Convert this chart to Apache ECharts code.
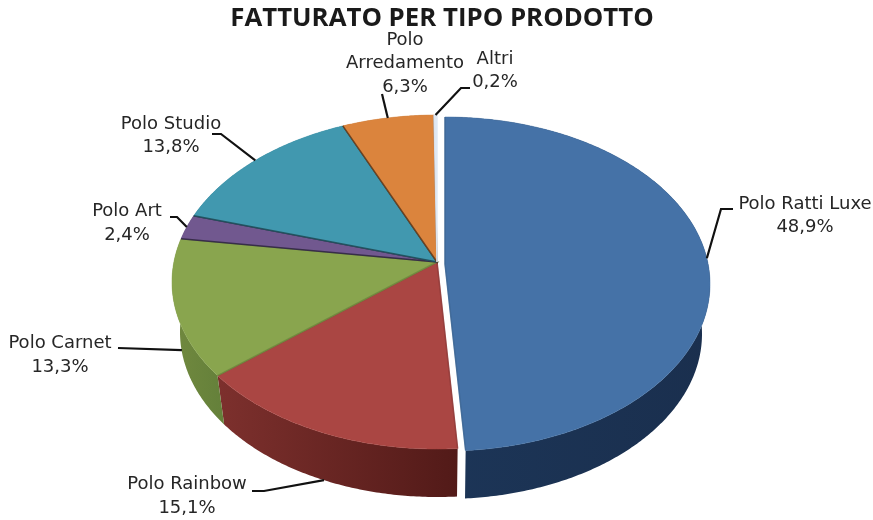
<!DOCTYPE html>
<html>
<head>
<meta charset="utf-8">
<style>html,body{margin:0;padding:0;background:#fff}#c{width:873px;height:520px}</style>
<script src="https://cdn.jsdelivr.net/npm/echarts@6/dist/echarts.min.js"></script>
</head>
<body>
<div id="c"></div>
<script>
const title = 'FATTURATO PER TIPO PRODOTTO';
const categories = ['Polo Ratti Luxe', 'Polo Rainbow', 'Polo Carnet', 'Polo Art', 'Polo Studio', 'Polo Arredamento', 'Altri'];
const values = [48.9, 15.1, 13.3, 2.4, 13.8, 6.3, 0.2];
const valueLabels = ['48,9%', '15,1%', '13,3%', '2,4%', '13,8%', '6,3%', '0,2%'];

const topColors = ['#4572a7', '#aa4643', '#89a54e', '#71588f', '#4198af', '#db843d', '#dfe8f3'];
const edgeColors = ['#3d6694', '#8f3a38', '#6f8a3e', '#2e2440', '#1f4a56', '#5f3a1c', '#dfe8f3'];
const wallLeft = ['#1c3557', '#7d302d', '#71893f', '#5a4672', '#33788b', '#af6a31', '#dfe8f3'];
const wallRight = ['#1a2f4e', '#521a18', '#64803a', '#5a4672', '#33788b', '#af6a31', '#dfe8f3'];

// perspective projection of the pie disc
const CX = 437, TOP_CY = 282, TOP_RX = 265, TOP_RY = 167;
const BOT_CY = 332, BOT_RX = 257, BOT_RY = 165, E = 0.12;
const explode = [[8, 2], [0, 0], [0, 0], [0, 0], [0, 0], [0, 0], [0, 0]];

// label boxes and leader bends (annotation layout)
const labelLayout = [
  {x: 805, y: [204, 227], depth: 0, bends: [[721, 209], [733, 209]]},
  {x: 187, y: [484, 508], depth: 1, bends: [[264, 491], [252, 491]]},
  {x: 60, y: [343, 367], depth: 0.85, bends: [[118, 348]]},
  {x: 127, y: [211, 235], depth: 0, bends: [[177, 217], [170, 217]]},
  {x: 171, y: [124, 147], depth: 0, bends: [[221, 134], [212, 134]]},
  {x: 405, y: [40, 63, 87], depth: 0, bends: [[382, 94]]},
  {x: 495, y: [59, 82], depth: 0, bends: [[461, 88], [470, 88]]}
];
const labelLines = [
  ['Polo Ratti Luxe'], ['Polo Rainbow'], ['Polo Carnet'], ['Polo Art'], ['Polo Studio'], ['Polo', 'Arredamento'], ['Altri']
];

const total = values.reduce((a, b) => a + b, 0);
const starts = [];
values.reduce((acc, v, i) => { starts[i] = acc; return acc + v; }, 0);

function proj(t) {
  const s = Math.sin(t), c = Math.cos(t), w = 1 + E * c;
  return [s * Math.sqrt(1 - E * E) / w, (c + E) / w];
}
function topPt(t, i) {
  const p = proj(t);
  return [CX + TOP_RX * p[0] + explode[i][0], TOP_CY - TOP_RY * p[1] + explode[i][1]];
}
function botPt(t, i) {
  const p = proj(t);
  return [CX + BOT_RX * p[0] + explode[i][0], BOT_CY - BOT_RY * p[1] + explode[i][1]];
}
function range(i) {
  return [starts[i] / total * 2 * Math.PI, (starts[i] + values[i]) / total * 2 * Math.PI];
}
function arc(i, fn) {
  const [a, b] = range(i), n = Math.max(2, Math.ceil((b - a) / 0.01)), pts = [];
  for (let k = 0; k <= n; k++) pts.push(fn(a + (b - a) * k / n, i));
  return pts;
}
function apex(i) { return [CX + explode[i][0], TOP_CY - TOP_RY * E + explode[i][1]]; }

function renderWall(params) {
  const i = params.dataIndex;
  const top = arc(i, topPt), bot = arc(i, botPt).reverse();
  return {
    type: 'polygon',
    shape: {points: top.concat(bot)},
    style: {fill: new echarts.graphic.LinearGradient(0, 0, 1, 0, [
      {offset: 0, color: wallLeft[i]}, {offset: 1, color: wallRight[i]}
    ])}
  };
}
function renderTop(params) {
  const i = params.dataIndex, pts = arc(i, topPt), ap = apex(i);
  return {
    type: 'group',
    children: [
      {type: 'polygon', shape: {points: [ap].concat(pts)}, style: {fill: topColors[i], stroke: topColors[i], lineWidth: 0.5}},
      {type: 'polyline', shape: {points: [pts[0], ap, pts[pts.length - 1]]}, style: {fill: null, stroke: edgeColors[i], lineWidth: 1.5, opacity: 0.85}}
    ]
  };
}
function renderLabel(params) {
  const i = params.dataIndex, L = labelLayout[i], r = range(i), mid = (r[0] + r[1]) / 2;
  const a = topPt(mid, i), b = botPt(mid, i);
  const anchor = [a[0] + (b[0] - a[0]) * L.depth, a[1] + (b[1] - a[1]) * L.depth];
  const lines = labelLines[i].concat(valueLabels[i]);
  const children = [{
    type: 'polyline',
    shape: {points: [anchor].concat(L.bends)},
    style: {fill: null, stroke: '#111', lineWidth: 2.2}
  }];
  lines.forEach((t, k) => children.push({
    type: 'text',
    style: {text: t, x: L.x, y: L.y[k], align: 'center', verticalAlign: 'middle',
      fill: '#262626', font: '18px "DejaVu Sans"'}
  }));
  return {type: 'group', children};
}

const data = categories.map((n, i) => ({name: n, value: values[i]}));
const chart = echarts.init(document.getElementById('c'), null, {renderer: 'canvas'});
chart.setOption({
  animation: false,
  title: {
    text: title, left: 437, top: 1, textAlign: 'center',
    textStyle: {fontFamily: 'Open Sans', fontWeight: 'bold', fontSize: 25.8, color: '#1a1a1a'}
  },
  series: [
    {type: 'custom', coordinateSystem: 'none', data, renderItem: renderWall, z: 1, silent: true},
    {type: 'custom', coordinateSystem: 'none', data, renderItem: renderTop, z: 2, silent: true},
    {type: 'custom', coordinateSystem: 'none', data, renderItem: renderLabel, z: 3, silent: true}
  ]
});
</script>
</body>
</html>
